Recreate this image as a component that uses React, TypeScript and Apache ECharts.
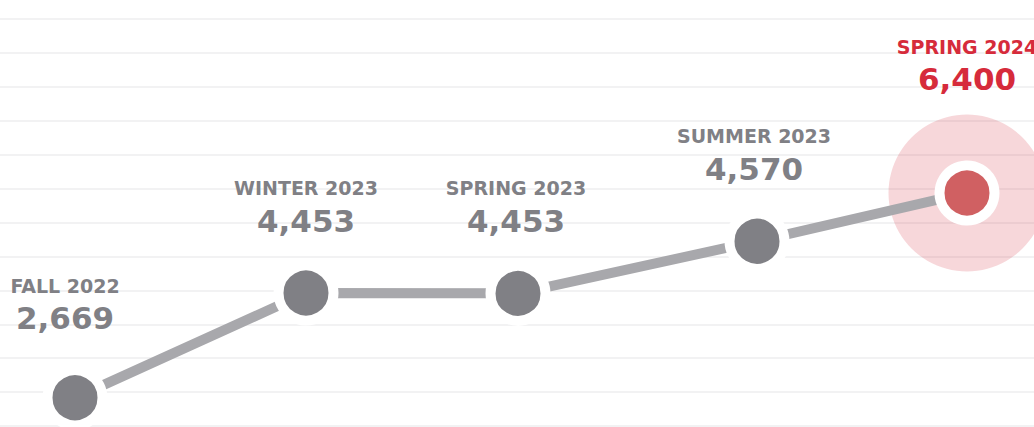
import React, { useEffect, useRef } from "react";
import * as echarts from "echarts";

// Season labels and enrolment values shown above each point
const seasons = ["FALL 2022", "WINTER 2023", "SPRING 2023", "SUMMER 2023", "SPRING 2024"];
const values = [2669, 4453, 4453, 4570, 6400];
// Horizontal placement of each point along the x axis (0..1034 units)
const xPositions = [75, 306, 518, 757, 967];
// Vertical plot level of each point (axis units, one per grid line)
const plotLevels = [0.83, 3.92, 3.91, 5.45, 6.87];
// Label nudges per point
const labelOffsets: [number, number][] = [[-10, -7], [0, 0], [-2, 0], [-3, 0], [0, -41]];

const GRAY = "#808085";
const RED = "#d62b3b";

export default function App() {
  const ref = useRef<HTMLDivElement>(null);
  useEffect(() => {
    if (!ref.current) return;
    const chart = echarts.init(ref.current, undefined, { renderer: "svg" });
    const last = seasons.length - 1;
    const lineData = seasons.map((s, i) => {
      const highlight = i === last;
      return {
        value: [xPositions[i], plotLevels[i]],
        itemStyle: {
          color: highlight ? "#d06062" : GRAY,
          borderColor: "#ffffff",
          borderWidth: 10,
        },
        label: {
          show: true,
          position: "top",
          distance: 23,
          offset: labelOffsets[i],
          align: "center",
          formatter: () => `{t|${s}}\n{v|${values[i].toLocaleString("en-US")}}`,
          rich: {
            t: {
              fontFamily: "DejaVu Sans",
              fontWeight: "bold",
              fontSize: 19,
              lineHeight: 31,
              color: highlight ? RED : GRAY,
              align: "center",
            },
            v: {
              fontFamily: "DejaVu Sans",
              fontWeight: "bold",
              fontSize: 31,
              lineHeight: 34,
              color: highlight ? RED : GRAY,
              align: "center",
            },
          },
        },
      };
    });
    chart.setOption({
      animation: false,
      grid: { left: 0, right: 0, top: 19, bottom: 1, containLabel: false },
      xAxis: {
        type: "value",
        min: 0,
        max: 1034,
        show: false,
      },
      yAxis: {
        type: "value",
        min: 0,
        max: 12,
        interval: 1,
        axisLine: { show: false },
        axisTick: { show: false },
        axisLabel: { show: false },
        splitLine: { show: true, lineStyle: { color: "#f2f2f3", width: 2 } },
      },
      series: [
        {
          type: "scatter",
          z: 1,
          silent: true,
          symbolSize: 157,
          itemStyle: { color: "rgba(215,45,60,0.24)" },
          data: [[xPositions[last], plotLevels[last]]],
        },
        {
          type: "line",
          z: 3,
          symbol: "circle",
          symbolSize: 55,
          lineStyle: { color: "#a8a8ac", width: 10 },
          data: lineData,
        },
      ],
    });
    return () => chart.dispose();
  }, []);
  return (
    <div
      ref={ref}
      style={{ position: "fixed", left: 0, top: 0, width: 1034, height: 427, background: "#fff" }}
    />
  );
}
